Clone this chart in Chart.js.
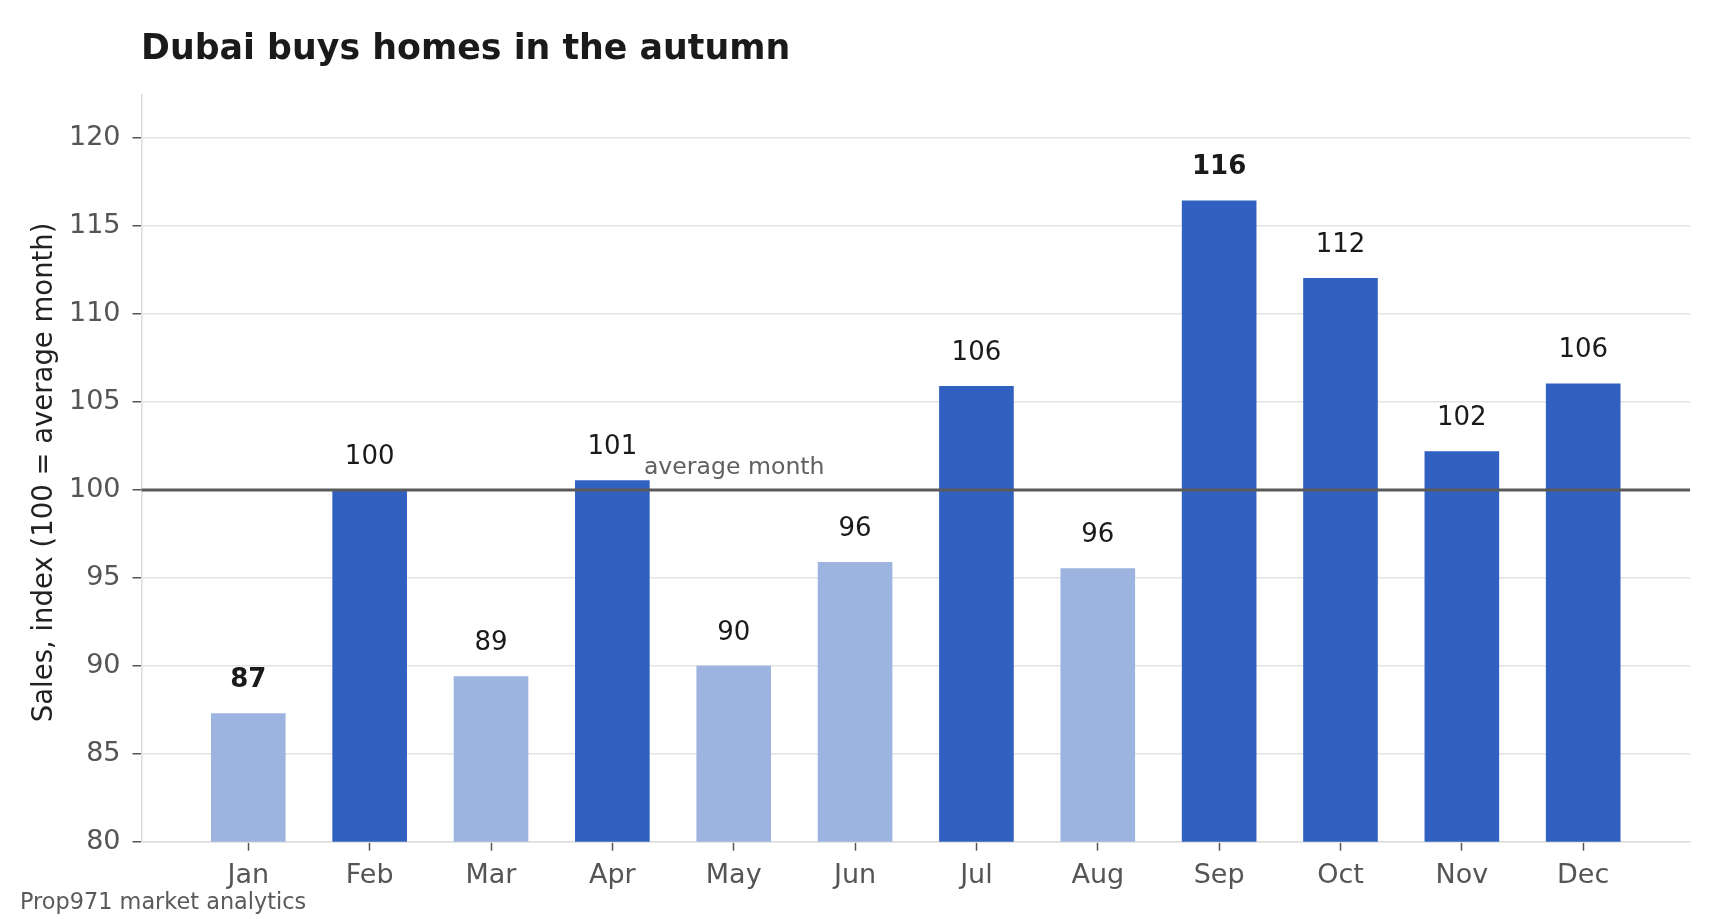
<!DOCTYPE html>
<html>
<head>
<meta charset="utf-8">
<script src="https://cdn.jsdelivr.net/npm/chart.js@4.4.1/dist/chart.umd.min.js"></script>
<style>
  html, body { margin: 0; padding: 0; background: #ffffff; }
  #wrap { width: 1720px; height: 919px; }
  canvas { display: block; }
</style>
</head>
<body>
<div id="wrap"><canvas id="chart" width="1720" height="919"></canvas></div>
<script>
// ---- data ----
const MONTHS = ["Jan", "Feb", "Mar", "Apr", "May", "Jun", "Jul", "Aug", "Sep", "Oct", "Nov", "Dec"];
const SALES_INDEX = [87.3, 100.0, 89.4, 100.55, 90.0, 95.9, 105.9, 95.55, 116.45, 112.05, 102.2, 106.05];
const AVERAGE = 100;
const Y_TICKS = [80, 85, 90, 95, 100, 105, 110, 115, 120];
const TITLE = "Dubai buys homes in the autumn";
const Y_LABEL = "Sales, index (100 = average month)";
const AVG_LABEL = "average month";
const SOURCE = "Prop971 market analytics";

// ---- styles ----
const FONT = "'DejaVu Sans', sans-serif";
const DARK = "#3060c0";
const LIGHT = "#9db4e0";
const GRID = "#e3e3e3";
const TICK = "#555555";

const points = SALES_INDEX.map((v, i) => ({ x: i, y: v }));
const colors = SALES_INDEX.map(v => (v >= AVERAGE ? DARK : LIGHT));
const maxV = Math.max(...SALES_INDEX);
const minV = Math.min(...SALES_INDEX);

const decorations = {
  id: 'decorations',
  afterDatasetsDraw(chart) {
    const ctx = chart.ctx;
    const xs = chart.scales.x, ys = chart.scales.y;
    const area = chart.chartArea;
    ctx.save();
    // average line
    const yAvg = ys.getPixelForValue(AVERAGE);
    ctx.strokeStyle = "#5a5a5a";
    ctx.lineWidth = 3;
    ctx.beginPath();
    ctx.moveTo(area.left, yAvg);
    ctx.lineTo(area.right, yAvg);
    ctx.stroke();
    // average label
    ctx.fillStyle = "#606060";
    ctx.font = "23.6px " + FONT;
    ctx.textAlign = "left";
    ctx.textBaseline = "alphabetic";
    ctx.fillText(AVG_LABEL, xs.getPixelForValue(3.26), yAvg - 16);
    // value labels
    ctx.textAlign = "center";
    ctx.textBaseline = "middle";
    ctx.fillStyle = "#1a1a1a";
    SALES_INDEX.forEach((v, i) => {
      const bold = (v === maxV || v === minV);
      ctx.font = (bold ? "bold " : "") + "26px " + FONT;
      ctx.fillText(String(Math.round(v)), xs.getPixelForValue(i), ys.getPixelForValue(v) - 33);
    });
    ctx.restore();
  },
  afterDraw(chart) {
    const ctx = chart.ctx;
    const area = chart.chartArea;
    ctx.save();
    // title
    ctx.fillStyle = "#1a1a1a";
    ctx.font = "bold 34.8px " + FONT;
    ctx.textAlign = "left";
    ctx.textBaseline = "alphabetic";
    ctx.fillText(TITLE, 141, 59);
    // source
    ctx.fillStyle = "#5a5a5a";
    ctx.font = "22.4px " + FONT;
    ctx.fillText(SOURCE, 20, 908.5);
    // y axis title
    ctx.fillStyle = "#222222";
    ctx.font = "27.5px " + FONT;
    ctx.textAlign = "center";
    ctx.translate(52, (area.top + area.bottom) / 2 + 4);
    ctx.rotate(-Math.PI / 2);
    ctx.fillText(Y_LABEL, 0, 0);
    ctx.restore();
  }
};

new Chart(document.getElementById('chart'), {
  type: 'bar',
  data: {
    datasets: [{
      data: points,
      backgroundColor: colors,
      borderWidth: 0,
      barPercentage: 0.615,
      categoryPercentage: 1.0
    }]
  },
  options: {
    responsive: false,
    devicePixelRatio: 1,
    animation: false,
    layout: { padding: { top: 95, right: 30, bottom: 0, left: 0 } },
    plugins: {
      legend: { display: false },
      tooltip: { enabled: false },
      title: { display: false }
    },
    scales: {
      x: {
        type: 'linear',
        offset: false,
        min: -0.88,
        max: 11.88,
        afterBuildTicks: (scale) => { scale.ticks = MONTHS.map((_, i) => ({ value: i })); },
        afterFit: (scale) => { scale.height = 77.3; },
        ticks: {
          callback: (v) => MONTHS[v],
          color: TICK,
          font: { family: FONT, size: 27 },
          padding: 9,
          maxRotation: 0,
          autoSkip: false
        },
        grid: {
          offset: false,
          drawOnChartArea: false,
          drawTicks: true,
          tickLength: 9,
          tickColor: TICK,
          tickWidth: 1.5
        },
        border: { display: true, color: "#dddddd", width: 1.5 }
      },
      y: {
        type: 'linear',
        min: 80,
        max: 122.45,
        afterBuildTicks: (scale) => { scale.ticks = Y_TICKS.map(v => ({ value: v })); },
        afterFit: (scale) => { scale.width = 141.5; },
        ticks: {
          color: TICK,
          font: { family: FONT, size: 27 },
          padding: 12
        },
        grid: {
          color: GRID,
          lineWidth: 1.5,
          drawTicks: true,
          tickLength: 9,
          tickColor: TICK,
          tickWidth: 1.5
        },
        border: { display: true, color: "#dddddd", width: 1.5 }
      }
    }
  },
  plugins: [decorations]
});
</script>
</body>
</html>
